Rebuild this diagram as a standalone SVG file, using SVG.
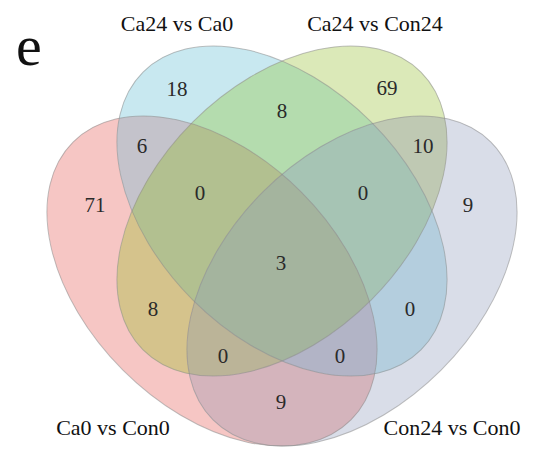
<svg xmlns="http://www.w3.org/2000/svg" width="542" height="454" viewBox="0 0 542 454">
  <style>
    .edge { fill: none; stroke: #8c8c8c; stroke-opacity: 0.55; stroke-width: 1; }
    .lbl { font-family: "Liberation Serif", "Times New Roman", serif; font-size: 22px; fill: #111; text-anchor: middle; }
    .num { font-family: "Liberation Serif", "Times New Roman", serif; font-size: 21px; fill: #2a2a2a; text-anchor: middle; }
  </style>
  <defs>
    <!-- set shapes: equal ellipses tilted ±45° -->
    <ellipse id="eR" cx="212" cy="281" rx="196.5" ry="126" transform="rotate(45 212 281)"/>
    <ellipse id="eB" cx="282" cy="211" rx="196.5" ry="126" transform="rotate(45 282 211)"/>
    <ellipse id="eG" cx="282" cy="211" rx="196.5" ry="126" transform="rotate(-45 282 211)"/>
    <ellipse id="eY" cx="352" cy="281" rx="196.5" ry="126" transform="rotate(-45 352 281)"/>
    <clipPath id="cR"><ellipse cx="212" cy="281" rx="196.5" ry="126" transform="rotate(45 212 281)"/></clipPath>
    <clipPath id="cB"><ellipse cx="282" cy="211" rx="196.5" ry="126" transform="rotate(45 282 211)"/></clipPath>
    <clipPath id="cG"><ellipse cx="282" cy="211" rx="196.5" ry="126" transform="rotate(-45 282 211)"/></clipPath>
    <clipPath id="cY"><ellipse cx="352" cy="281" rx="196.5" ry="126" transform="rotate(-45 352 281)"/></clipPath>
    <rect id="full" x="0" y="0" width="542" height="454"/>
  </defs>
  <rect width="542" height="454" fill="#ffffff"/>

  <!-- panel letter -->
  <text x="16" y="65" font-family="'Liberation Serif', 'Times New Roman', serif" font-size="58" fill="#111">e</text>

  <!-- single-set areas -->
  <g id="set-ca0-con0">
    <use href="#eR" fill="#F6C6C4"/>
    <text class="lbl" x="113" y="435">Ca0 vs Con0</text>
  </g>
  <g id="set-con24-con0">
    <use href="#eY" fill="#D9DDE8"/>
    <text class="lbl" x="452" y="435">Con24 vs Con0</text>
  </g>
  <g id="set-ca24-ca0">
    <use href="#eB" fill="#C8E8F0"/>
    <text class="lbl" x="177" y="31">Ca24 vs Ca0</text>
  </g>
  <g id="set-ca24-con24">
    <use href="#eG" fill="#DBE9B8"/>
    <text class="lbl" x="375" y="31">Ca24 vs Con24</text>
  </g>

  <!-- overlap areas, painted from two-way to four-way -->
  <g id="overlaps">
    <g clip-path="url(#cR)"><g clip-path="url(#cB)"><use href="#full" fill="#C4C3CB"/></g></g>
    <g clip-path="url(#cB)"><g clip-path="url(#cG)"><use href="#full" fill="#B4DCAE"/></g></g>
    <g clip-path="url(#cG)"><g clip-path="url(#cY)"><use href="#full" fill="#BFC9B3"/></g></g>
    <g clip-path="url(#cR)"><g clip-path="url(#cG)"><use href="#full" fill="#D5C38C"/></g></g>
    <g clip-path="url(#cR)"><g clip-path="url(#cY)"><use href="#full" fill="#D4B4BC"/></g></g>
    <g clip-path="url(#cB)"><g clip-path="url(#cY)"><use href="#full" fill="#B4CEDE"/></g></g>

    <g clip-path="url(#cR)"><g clip-path="url(#cB)"><g clip-path="url(#cG)"><use href="#full" fill="#B2C090"/></g></g></g>
    <g clip-path="url(#cB)"><g clip-path="url(#cG)"><g clip-path="url(#cY)"><use href="#full" fill="#A6C4B4"/></g></g></g>
    <g clip-path="url(#cR)"><g clip-path="url(#cG)"><g clip-path="url(#cY)"><use href="#full" fill="#BBB498"/></g></g></g>
    <g clip-path="url(#cR)"><g clip-path="url(#cB)"><g clip-path="url(#cY)"><use href="#full" fill="#B2B4C6"/></g></g></g>

    <g clip-path="url(#cR)"><g clip-path="url(#cB)"><g clip-path="url(#cG)"><g clip-path="url(#cY)"><use href="#full" fill="#A4B49E"/></g></g></g></g>
  </g>

  <!-- outlines -->
  <g id="outlines">
    <use href="#eR" class="edge"/>
    <use href="#eY" class="edge"/>
    <use href="#eB" class="edge"/>
    <use href="#eG" class="edge"/>
  </g>

  <!-- region counts -->
  <g id="counts">
    <text class="num" x="177" y="96">18</text>
    <text class="num" x="387" y="95">69</text>
    <text class="num" x="282" y="118">8</text>
    <text class="num" x="142" y="153">6</text>
    <text class="num" x="423" y="153">10</text>
    <text class="num" x="95" y="212">71</text>
    <text class="num" x="468" y="212">9</text>
    <text class="num" x="200" y="200">0</text>
    <text class="num" x="363" y="200">0</text>
    <text class="num" x="281" y="270">3</text>
    <text class="num" x="153" y="316">8</text>
    <text class="num" x="410" y="316">0</text>
    <text class="num" x="223" y="363">0</text>
    <text class="num" x="340" y="363">0</text>
    <text class="num" x="281" y="409">9</text>
  </g>
</svg>
